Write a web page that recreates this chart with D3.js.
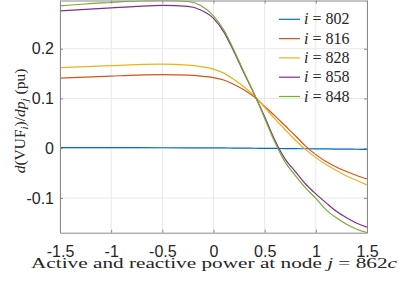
<!DOCTYPE html>
<html>
<head>
<meta charset="utf-8">
<script src="https://cdn.jsdelivr.net/npm/d3@7"></script>
<style>
  body { margin: 0; background: #fff; }
  svg { display: block; }
</style>
</head>
<body>
<svg id="chart" width="399" height="281"></svg>
<script>
// sample positions along the x axis (power at node 862c)
const xs = [-1.5, -1.25, -1, -0.75, -0.5, -0.25, -0.125, 0, 0.1, 0.2, 0.3, 0.4, 0.5, 0.6, 0.7, 0.8, 0.9, 1.0, 1.1, 1.2, 1.3, 1.4, 1.5];

const node802 = [0.0012, 0.0012, 0.0011, 0.0010, 0.0009, 0.0008, 0.0007, 0.0006, 0.0004, 0.0002, 0.0000, -0.0002, -0.0004, -0.0006, -0.0008, -0.0010, -0.0012, -0.0014, -0.0016, -0.0018, -0.0020, -0.0022, -0.0024];
const node816 = [0.141, 0.143, 0.145, 0.147, 0.148, 0.147, 0.145, 0.142, 0.137, 0.128, 0.117, 0.103, 0.084, 0.065, 0.045, 0.025, 0.004, -0.013, -0.027, -0.038, -0.047, -0.055, -0.062];
const node828 = [0.162, 0.164, 0.166, 0.168, 0.169, 0.167, 0.164, 0.159, 0.151, 0.138, 0.123, 0.105, 0.082, 0.059, 0.037, 0.016, -0.003, -0.019, -0.033, -0.045, -0.056, -0.065, -0.074];
const node858 = [0.276, 0.279, 0.282, 0.285, 0.287, 0.285, 0.278, 0.261, 0.234, 0.194, 0.150, 0.108, 0.063, 0.016, -0.022, -0.047, -0.072, -0.092, -0.110, -0.127, -0.140, -0.151, -0.159];
const node848 = [0.286, 0.290, 0.293, 0.296, 0.297, 0.295, 0.287, 0.266, 0.238, 0.197, 0.152, 0.108, 0.060, 0.012, -0.028, -0.055, -0.080, -0.101, -0.124, -0.140, -0.153, -0.163, -0.170];

const seriesNames = ["802", "816", "828", "858", "848"];
const seriesColors = ["#0072BD", "#D95319", "#EDB120", "#7E2F8E", "#77AC30"];

const xTicks = [-1.5, -1, -0.5, 0, 0.5, 1, 1.5];
const xTickLabels = ["-1.5", "-1", "-0.5", "0", "0.5", "1", "1.5"];
const yTicks = [-0.1, 0, 0.1, 0.2];
const yTickLabels = ["-0.1", "0", "0.1", "0.2"];

const svg = d3.select("#chart");
const plotLeft = 60, plotRight = 367, plotTop = 0.5, plotBottom = 232.7;

const x = d3.scaleLinear().domain([-1.5, 1.5]).range([plotLeft, plotRight]);
const y = d3.scaleLinear().domain([-0.17, 0.297]).range([plotBottom, plotTop]);

// grid
const grid = svg.append("g").attr("stroke", "#e8e8e8").attr("stroke-width", 1);
grid.selectAll(".gx").data(xTicks).join("line")
    .attr("x1", d => x(d)).attr("x2", d => x(d))
    .attr("y1", plotTop).attr("y2", plotBottom);
grid.selectAll(".gy").data(yTicks).join("line")
    .attr("x1", plotLeft).attr("x2", plotRight)
    .attr("y1", d => y(d)).attr("y2", d => y(d));

// curves
const allSeries = [node802, node816, node828, node858, node848];
const line = d3.line()
    .x((d, i) => x(xs[i]))
    .y(d => y(d))
    .curve(d3.curveMonotoneX);

svg.append("defs").append("clipPath").attr("id", "clip")
    .append("rect").attr("x", plotLeft).attr("y", plotTop)
    .attr("width", plotRight - plotLeft).attr("height", plotBottom - plotTop);

svg.append("g").attr("clip-path", "url(#clip)")
    .selectAll("path").data(allSeries).join("path")
    .attr("d", d => line(d))
    .attr("fill", "none")
    .attr("stroke", (d, i) => seriesColors[i])
    .attr("stroke-width", 1.2);

// axes box with inward ticks on all sides
const axisColor = "#8a8a8a";
const tickLen = 3;
const bottomAxis = d3.axisBottom(x).tickValues(xTicks).tickSizeInner(-tickLen).tickSizeOuter(0).tickFormat((d, i) => xTickLabels[i]).tickPadding(12.5);
const topAxis = d3.axisTop(x).tickValues(xTicks).tickSizeInner(-tickLen).tickSizeOuter(0).tickFormat("");
const leftAxis = d3.axisLeft(y).tickValues(yTicks).tickSizeInner(-tickLen).tickSizeOuter(0).tickFormat((d, i) => yTickLabels[i]).tickPadding(6);
const rightAxis = d3.axisRight(y).tickValues(yTicks).tickSizeInner(-tickLen).tickSizeOuter(0).tickFormat("");

function styleAxis(g) {
    g.select(".domain").attr("stroke", axisColor);
    g.selectAll(".tick line").attr("stroke", axisColor);
    g.selectAll(".tick text").attr("fill", "#262626")
        .style("font-family", "'Liberation Sans', Arial, sans-serif")
        .style("font-size", "16px");
}

svg.append("g").attr("transform", `translate(0,${plotBottom})`).call(bottomAxis).call(styleAxis);
svg.append("g").attr("transform", `translate(0,${plotTop})`).call(topAxis).call(styleAxis);
svg.append("g").attr("transform", `translate(${plotLeft},0)`).call(leftAxis).call(styleAxis);
svg.append("g").attr("transform", `translate(${plotRight},0)`).call(rightAxis).call(styleAxis);

// legend
const serif = "'Liberation Serif', 'DejaVu Serif', serif";
const legend = svg.append("g");
const entries = legend.selectAll("g").data(seriesNames).join("g")
    .attr("transform", (d, i) => `translate(279,${19.3 + i * 19.3})`);
entries.append("line")
    .attr("x1", 0).attr("x2", 21)
    .attr("stroke", (d, i) => seriesColors[i]).attr("stroke-width", 1.2);
const lt = entries.append("text")
    .attr("x", 25).attr("y", 5)
    .style("font-family", serif).style("font-size", "16px").attr("fill", "#262626");
lt.append("tspan").style("font-style", "italic").text("i");
lt.append("tspan").text(d => " = " + d);

// axis labels
svg.append("text")
    .attr("x", 31).attr("y", 268)
    .attr("textLength", 366).attr("lengthAdjust", "spacingAndGlyphs")
    .style("font-family", serif).style("font-size", "15px").attr("fill", "#262626")
    .call(t => {
        t.append("tspan").text("Active and reactive power at node ");
        t.append("tspan").style("font-style", "italic").text("j");
        t.append("tspan").text(" = 862");
        t.append("tspan").style("font-style", "italic").text("c");
    });

const ylab = svg.append("text")
    .attr("transform", "translate(25,121) rotate(-90)")
    .attr("text-anchor", "middle")
    .style("font-family", serif).style("font-size", "15.5px").attr("fill", "#262626");
ylab.append("tspan").style("font-style", "italic").text("d");
ylab.append("tspan").text("(VUF");
ylab.append("tspan").style("font-style", "italic").style("font-size", "11px").attr("dy", 3).text("i");
ylab.append("tspan").attr("dy", -3).text(")/");
ylab.append("tspan").style("font-style", "italic").text("dp");
ylab.append("tspan").style("font-style", "italic").style("font-size", "11px").attr("dy", 3).text("j");
ylab.append("tspan").attr("dy", -3).text(" (pu)");
</script>
</body>
</html>
